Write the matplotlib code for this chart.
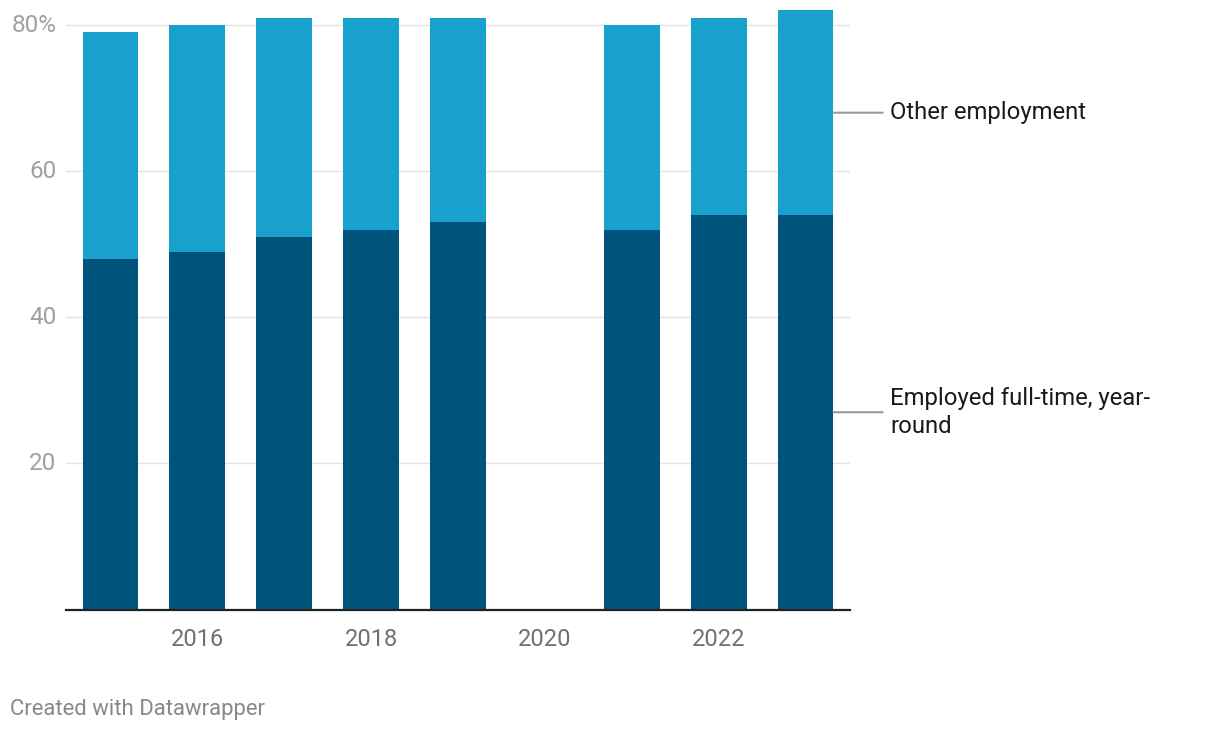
import matplotlib
matplotlib.use("Agg")
import matplotlib.pyplot as plt
import numpy as np

years = [2015, 2016, 2017, 2018, 2019, 2021, 2022, 2023]
full_time = [48, 49, 51, 52, 53, 52, 54, 54]
other = [31, 31, 30, 29, 28, 28, 27, 28]
series_names = ["Employed full-time, year-\nround", "Other employment"]
y_ticks = [20, 40, 60, 80]
y_tick_labels = ["20", "40", "60", "80%"]
x_ticks = [2016, 2018, 2020, 2022]

dark = "#00537a"
light = "#18a1cd"

plt.rcParams['font.family'] = ['Roboto', 'DejaVu Sans']

W, H = 1220, 732
fig = plt.figure(figsize=(W / 100, H / 100), dpi=100)
left, right = 66, 850
top, bottom = 10.4, 609.5
ax = fig.add_axes([left / W, 1 - bottom / H, (right - left) / W, (bottom - top) / H])

ax.bar(years, full_time, width=0.64, color=dark, zorder=3)
ax.bar(years, other, bottom=full_time, width=0.64, color=light, zorder=3)

ax.set_xlim(2014.49, 2023.51)
ax.set_ylim(0, 82)
ax.set_yticks(y_ticks)
ax.set_yticklabels(y_tick_labels)
ax.set_xticks(x_ticks)
ax.set_xticklabels([str(x) for x in x_ticks])
ax.grid(axis='y', color='#e3e3e3', linewidth=1, zorder=0)
for s in ['top', 'right', 'left']:
    ax.spines[s].set_visible(False)
ax.spines['bottom'].set_color('#222222')
ax.spines['bottom'].set_linewidth(1.6)
ax.spines['bottom'].set_zorder(4)
ax.tick_params(axis='y', length=0, labelsize=17.5, labelcolor='#a0a0a0', pad=7)
ax.tick_params(axis='x', length=0, labelsize=17, labelcolor='#707070', pad=13)
for lbl in ax.get_yticklabels():
    lbl.set_verticalalignment('center')

# direct labels
last_ft = full_time[-1]
last_other = other[-1]
label_ys = [last_ft / 2, last_ft + last_other / 2]
for name, yv in zip(series_names, label_ys):
    ax.annotate('', xy=(2023.32, yv), xytext=(2023.885, yv), xycoords='data',
                arrowprops=dict(arrowstyle='-', color='#999999', lw=1.5,
                                shrinkA=0, shrinkB=0), annotation_clip=False)
    ax.text(2023.975, yv, name, fontsize=17.2, color='#1a1a1a',
            va='center', ha='left', linespacing=1.26, clip_on=False)

fig.text(10 / W, 1 - 709 / H, "Created with Datawrapper", fontsize=15.9,
         color='#888888', va='center', ha='left')

fig.savefig("out.png", dpi=100)
